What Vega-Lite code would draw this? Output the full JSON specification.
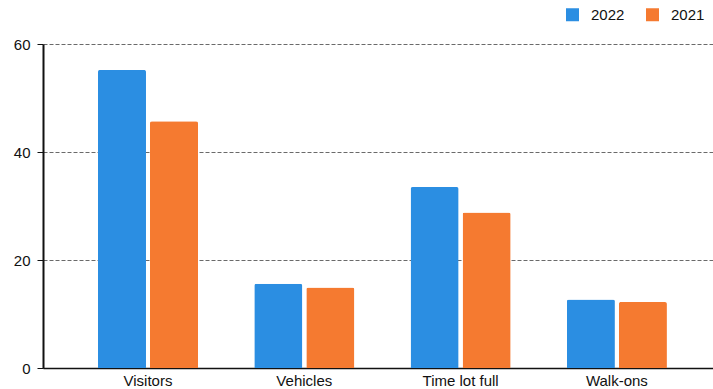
{
  "$schema": "https://vega.github.io/schema/vega-lite/v6.json",
  "width": 670,
  "height": 324,
  "autosize": "none",
  "padding": {"left": 43, "top": 44, "right": 0, "bottom": 21},
  "background": "white",
  "data": {
    "values": [
      {"category": "Visitors", "year": "2022", "value": 55.2},
      {"category": "Visitors", "year": "2021", "value": 45.7},
      {"category": "Vehicles", "year": "2022", "value": 15.6},
      {"category": "Vehicles", "year": "2021", "value": 14.9},
      {"category": "Time lot full", "year": "2022", "value": 33.5},
      {"category": "Time lot full", "year": "2021", "value": 28.8},
      {"category": "Walk-ons", "year": "2022", "value": 12.7},
      {"category": "Walk-ons", "year": "2021", "value": 12.2}
    ]
  },
  "mark": {"type": "bar", "cornerRadiusTopLeft": 2, "cornerRadiusTopRight": 2},
  "encoding": {
    "x": {
      "field": "category",
      "type": "nominal",
      "sort": ["Visitors", "Vehicles", "Time lot full", "Walk-ons"],
      "scale": {"paddingInner": 0.36, "paddingOuter": 0.3233, "align": 0.544},
      "axis": {
        "title": null,
        "labelAngle": 0,
        "ticks": false,
        "domainColor": "#111111",
        "domainWidth": 1.5,
        "labelFont": "Liberation Sans",
        "labelFontSize": 15,
        "labelColor": "#111111",
        "labelPadding": 5
      }
    },
    "xOffset": {
      "field": "year",
      "type": "nominal",
      "sort": ["2022", "2021"],
      "scale": {"paddingInner": 0.077, "paddingOuter": 0}
    },
    "y": {
      "field": "value",
      "type": "quantitative",
      "scale": {"domain": [0, 60]},
      "axis": {
        "title": null,
        "values": [0, 20, 40, 60],
        "grid": true,
        "gridColor": "#444444",
        "gridDash": [4, 2],
        "gridWidth": 0.8,
        "domainColor": "#111111",
        "domainWidth": 2,
        "tickColor": "#111111",
        "tickSize": 6,
        "labelPadding": 7,
        "labelFont": "Liberation Sans",
        "labelFontSize": 15,
        "labelColor": "#111111"
      }
    },
    "color": {
      "field": "year",
      "type": "nominal",
      "sort": ["2022", "2021"],
      "scale": {"domain": ["2022", "2021"], "range": ["#2b8ee2", "#f57a30"]},
      "legend": {
        "title": null,
        "orient": "none",
        "direction": "horizontal",
        "legendX": 522,
        "legendY": -37,
        "symbolType": "square",
        "symbolSize": 169,
        "symbolStrokeWidth": 0,
        "labelFont": "Liberation Sans",
        "labelFontSize": 15,
        "labelColor": "#111111",
        "labelOffset": 11,
        "columnPadding": 20
      }
    }
  },
  "config": {"view": {"stroke": null}}
}
